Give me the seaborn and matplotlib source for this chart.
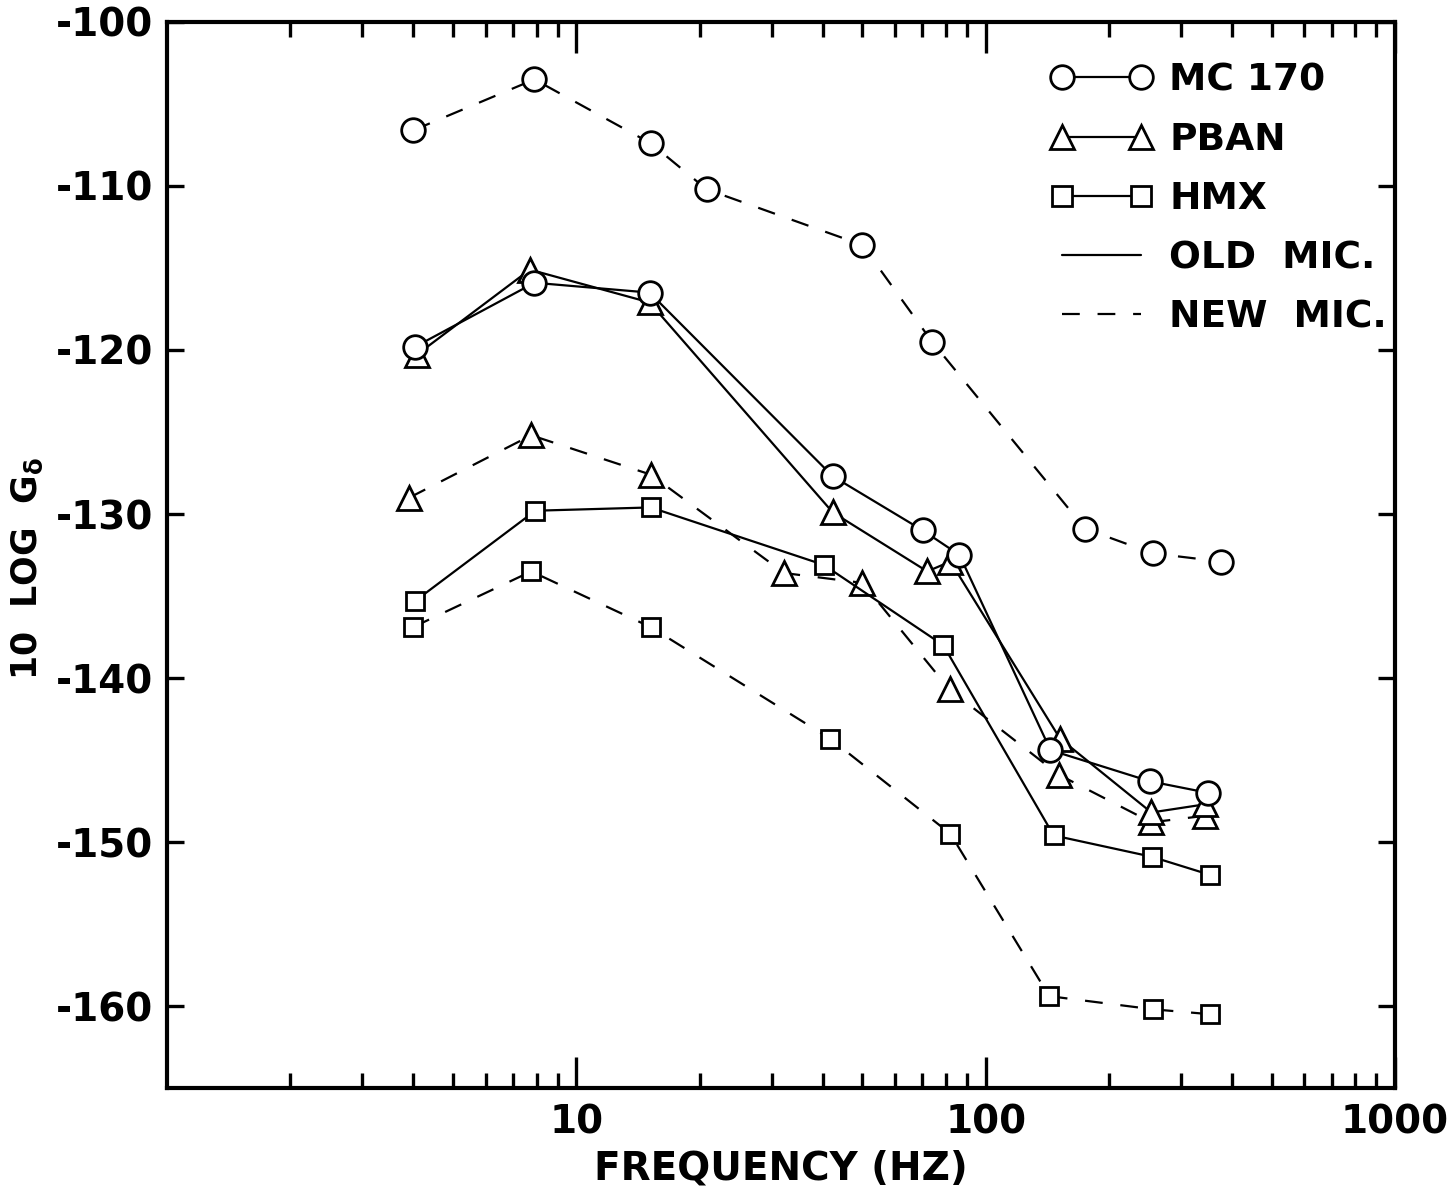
import matplotlib
matplotlib.use("Agg")
import matplotlib.pyplot as plt
from matplotlib.lines import Line2D
from matplotlib.ticker import LogLocator, NullFormatter, NullLocator
import seaborn as sns

# Frequency (Hz) and spectral level (10 log G_delta) for each propellant / microphone
mc170_old_f = [4.04, 7.9, 15.1, 42.3, 70.2, 86.3, 144, 252, 349]
mc170_old_g = [-119.8, -115.9, -116.5, -127.7, -131.0, -132.5, -144.4, -146.3, -147.0]

mc170_new_f = [4.0, 7.9, 15.2, 20.8, 50, 74, 175, 256, 376]
mc170_new_g = [-106.6, -103.5, -107.4, -110.2, -113.6, -119.5, -130.9, -132.4, -132.9]

pban_old_f = [4.07, 7.7, 15.1, 42.3, 72, 82, 152, 254, 344]
pban_old_g = [-120.3, -115.1, -117.1, -129.9, -133.5, -132.9, -143.7, -148.2, -147.7]

pban_new_f = [3.91, 7.76, 15.2, 32.2, 50, 81.6, 151, 254, 344]
pban_new_g = [-129.0, -125.2, -127.6, -133.6, -134.2, -140.7, -145.9, -148.8, -148.4]

hmx_old_f = [4.04, 7.94, 15.2, 40.2, 78.8, 146.6, 254.6, 353]
hmx_old_g = [-135.3, -129.8, -129.6, -133.1, -138.0, -149.6, -150.9, -152.0]

hmx_new_f = [3.99, 7.76, 15.2, 41.7, 82, 143, 256, 353]
hmx_new_g = [-136.9, -133.5, -136.9, -143.7, -149.5, -159.4, -160.2, -160.5]

x_tick_values = [10, 100, 1000]
x_tick_labels = ["10", "100", "1000"]
y_tick_values = [-160, -150, -140, -130, -120, -110, -100]
y_tick_labels = ["-160", "-150", "-140", "-130", "-120", "-110", "-100"]

legend_labels = ["MC 170", "PBAN", "HMX", "OLD  MIC.", "NEW  MIC."]

sns.set_style("ticks")
plt.rcParams["font.family"] = ["DejaVu Sans"]
plt.rcParams["font.weight"] = "bold"
plt.rcParams["axes.unicode_minus"] = False
plt.rcParams["mathtext.fontset"] = "dejavusans"
plt.rcParams["mathtext.default"] = "bf"
for key in ["text.color", "axes.labelcolor", "xtick.color", "ytick.color",
            "xtick.labelcolor", "ytick.labelcolor", "axes.edgecolor"]:
    plt.rcParams[key] = "black"

W, H = 1447, 1195
fig = plt.figure(figsize=(W / 100, H / 100), dpi=100)
fig.patch.set_facecolor("white")
left, right, top, bottom = 167, 1395, 22, 1088
ax = fig.add_axes([left / W, 1 - bottom / H, (right - left) / W, (bottom - top) / H])
ax.set_facecolor("white")

solid = "-"
dashed = (0, (8, 8))
series = [
    (mc170_new_f, mc170_new_g, "o", 17, dashed),
    (pban_new_f, pban_new_g, "^", 17.5, dashed),
    (hmx_new_f, hmx_new_g, "s", 13.5, dashed),
    (hmx_old_f, hmx_old_g, "s", 13.5, solid),
    (pban_old_f, pban_old_g, "^", 17.5, solid),
    (mc170_old_f, mc170_old_g, "o", 17, solid),
]
for f, g, mk, ms, ls in series:
    sns.lineplot(x=f, y=g, ax=ax, color="black", marker=mk, markersize=ms,
                 markerfacecolor="white", markeredgecolor="black",
                 markeredgewidth=2.0, linewidth=1.6, linestyle=ls,
                 errorbar=None, sort=False, legend=False)

ax.set_xscale("log")
ax.set_xlim(1, 1000)
ax.set_ylim(-165, -100)

ax.set_xticks(x_tick_values)
ax.set_xticklabels(x_tick_labels)
ax.xaxis.set_minor_locator(LogLocator(base=10, subs=range(2, 10), numticks=20))
ax.xaxis.set_minor_formatter(NullFormatter())
ax.set_yticks(y_tick_values)
ax.set_yticklabels(y_tick_labels)
ax.yaxis.set_minor_locator(NullLocator())

ax.tick_params(axis="x", which="major", direction="in", length=22, width=2.4,
               top=True, bottom=True, labelsize=28, pad=11,
               color="black", labelcolor="black")
ax.tick_params(axis="x", which="minor", direction="in", length=11, width=2.4,
               top=True, bottom=True, color="black")
ax.tick_params(axis="y", which="major", direction="in", length=12, width=2.4,
               left=True, right=True, labelsize=28, pad=10,
               color="black", labelcolor="black")
for lab in ax.get_xticklabels() + ax.get_yticklabels():
    lab.set_fontweight("bold")

for sp in ax.spines.values():
    sp.set_linewidth(3)
    sp.set_color("black")
    sp.set_visible(True)

ax.set_xlabel("FREQUENCY (HZ)", fontsize=28, fontweight="bold", labelpad=6,
              color="black")
ax.set_ylabel("")
fig.text(27 / W, 1 - 568 / H, r"10  LOG  G$_{\delta}$", rotation=90, ha="center",
         va="center", fontsize=25, fontweight="bold", color="black")

handles = [
    Line2D([], [], color="black", lw=1.6, marker="o", markersize=17,
           markerfacecolor="white", markeredgewidth=2.0),
    Line2D([], [], color="black", lw=1.6, marker="^", markersize=17.5,
           markerfacecolor="white", markeredgewidth=2.0),
    Line2D([], [], color="black", lw=1.6, marker="s", markersize=14,
           markerfacecolor="white", markeredgewidth=2.0),
    Line2D([], [], color="black", lw=1.6, linestyle=solid),
    Line2D([], [], color="black", lw=1.6, linestyle=dashed),
]
leg = ax.legend(handles, legend_labels, loc="upper left",
                bbox_to_anchor=(0.72, 0.962), frameon=False, numpoints=2,
                handlelength=2.7, handletextpad=0.45, labelspacing=0.62,
                borderpad=0, borderaxespad=0,
                prop={"size": 27, "weight": "bold"})
for t in leg.get_texts():
    t.set_color("black")

fig.savefig("out.png", dpi=100, facecolor="white")
